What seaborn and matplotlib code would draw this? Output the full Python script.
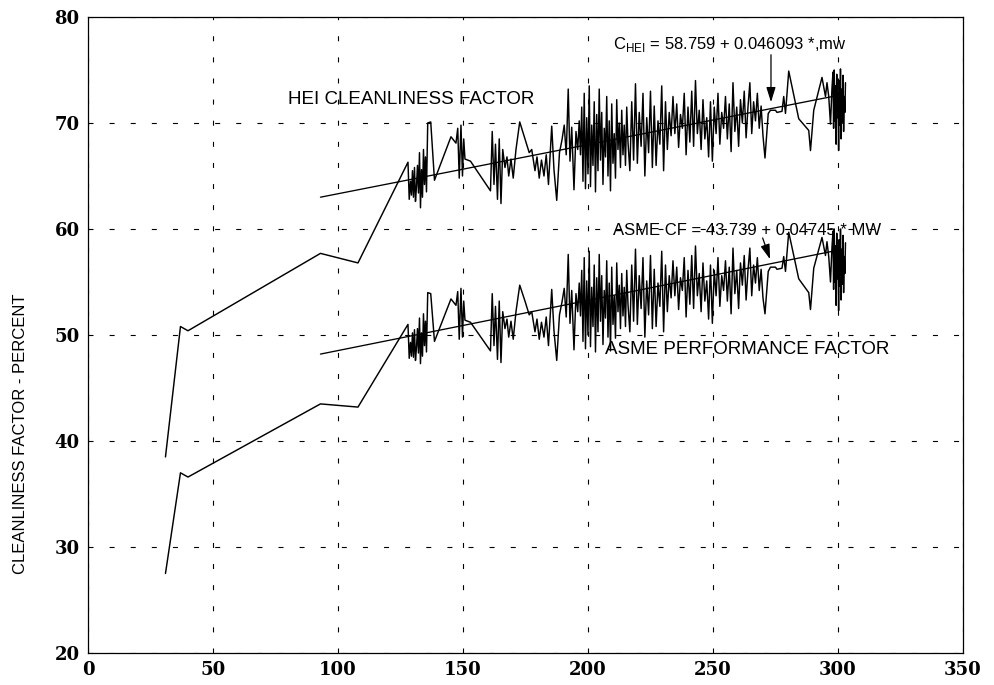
import pandas as pd
import matplotlib
matplotlib.use('Agg')
import matplotlib.pyplot as plt
import seaborn as sns

# Carga (MW) e fatores de limpeza
mw = [31, 37, 40, 93, 108, 128,
      128.5, 129.0, 129.4, 129.8, 130.2, 130.6, 131.0, 131.4, 131.8, 132.2,
      132.6, 133.0, 133.4, 133.8, 134.2, 134.6, 135.0, 135.4, 135.9, 137.1,
      138.6, 145.2, 147.2, 147.9, 148.5, 149.2, 149.8, 150.3, 150.8, 153.0,
      161.0, 161.7, 162.4, 163.0, 163.8, 164.5, 165.2, 165.9, 166.8, 167.6,
      168.3, 169.2, 170.1, 171.2, 172.7, 174.8, 176.5, 177.5, 178.8, 179.6,
      180.5, 181.4, 182.4, 183.3, 184.2, 185.5, 186.4, 187.5, 188.6, 189.6,
      190.5, 191.3, 192.1, 192.8, 193.5, 194.4, 195.2, 195.9, 196.5,
      197.0, 197.5, 198.0, 198.5, 199.0, 199.5, 200.0, 200.5, 201.0, 201.5,
      202.0, 202.5, 203.0, 203.5, 204.0, 204.5, 205.0, 205.5, 206.0, 206.5,
      207.0, 207.5, 208.0, 208.5, 209.0, 209.5, 210.0, 210.5, 211.0, 211.5,
      212.0, 212.5, 213.0, 213.5, 214.0, 214.5, 215.0, 215.5, 216.0,
      216.75, 217.5, 218.25, 219.0, 219.75, 220.5, 221.25, 222.0, 222.75, 223.5,
      224.25, 225.0, 225.75, 226.5, 227.25, 228.0, 228.75, 229.5, 230.25, 231.0,
      231.75, 232.5, 233.25, 234.0, 234.75, 235.5, 236.25, 237.0, 237.75, 238.5,
      239.25, 240.0, 240.75, 241.5, 242.25, 243.0, 243.75, 244.5, 245.25, 246.0,
      246.75, 247.5, 248.25, 249.0, 249.75, 250.5, 251.25, 252.0, 252.75, 253.5,
      254.25, 255.0, 255.75, 256.5, 257.25, 258.0, 258.75, 259.5, 260.25, 261.0,
      261.75, 262.5, 263.25, 264.0, 264.75, 265.5, 266.25, 267.0, 267.75, 268.5,
      269.25, 270.0,
      270.8, 272.1, 273.0, 275.0, 275.6, 277.6, 278.3, 279.0, 280.3, 284.3,
      288.3, 289.0, 290.3, 293.6, 295.0, 295.6, 296.3, 297.0, 297.6,
      298.0, 298.25, 298.5, 298.75, 299.0, 299.25, 299.5, 299.75, 300.0, 300.25,
      300.5, 300.75, 301.0, 301.25, 301.5, 301.75, 302.0, 302.25, 302.5, 302.75,
      303.0]

hei_cf = [38.5, 50.8, 50.4, 57.7, 56.8, 66.3,
          62.8, 64.5, 63.2, 65.5, 63.0, 65.8, 62.6, 64.0, 66.0, 63.4,
          67.2, 62.0, 65.6, 63.0, 67.5, 64.2, 66.8, 63.5, 70.0, 70.1,
          64.6, 68.7, 68.1, 69.5, 64.8, 69.8, 65.0, 68.5, 66.6, 66.4,
          63.6, 69.2, 64.2, 68.0, 62.8, 68.5, 62.4, 67.5, 65.8, 66.8,
          65.0, 66.6, 64.8, 67.5, 70.1, 68.5, 67.2, 67.5, 65.5, 66.8,
          64.8, 66.5, 65.0, 67.0, 64.2, 69.7, 65.6, 62.7, 67.2, 68.4,
          69.8, 67.0, 73.2, 66.4, 69.6, 63.7, 69.2, 67.5, 70.2,
          67.0, 71.5, 64.5, 72.8, 63.8, 70.5, 65.2, 73.5, 64.0, 69.8,
          66.0, 72.0, 63.5, 70.8, 65.5, 73.2, 66.5, 71.0, 64.2, 69.5,
          66.8, 72.5, 65.0, 70.2, 63.6, 71.8, 66.2, 69.0, 64.8, 72.2,
          67.5, 70.0, 65.8, 71.2, 67.0, 69.8, 66.0, 71.5, 68.2,
          65.5, 72.0, 66.5, 73.7, 66.2, 71.0, 67.8, 72.8, 65.0, 70.5,
          67.2, 73.0, 65.8, 71.6, 66.0, 70.2, 68.0, 73.5, 65.5, 72.0,
          67.5, 71.0, 68.8, 72.5, 69.0, 71.8, 67.7, 70.8, 69.5, 72.8,
          67.0, 71.5, 68.2, 73.0, 67.8, 74.0, 69.0, 71.2, 67.5, 72.2,
          68.5, 70.5, 66.8, 72.0, 66.4, 71.5, 69.0, 72.8, 68.0, 71.0,
          69.5, 72.5, 68.5, 71.8, 67.3, 73.8, 69.2, 71.5, 67.8, 72.2,
          70.0, 73.0, 68.6, 71.5, 73.8, 69.0, 72.0, 70.2, 72.8, 69.5,
          71.6, 68.8,
          66.7, 70.9, 71.2, 71.2, 71.0, 71.1, 72.5, 70.9, 74.9, 70.4,
          69.3, 67.4, 71.2, 74.3, 72.5, 73.8, 72.5, 69.9, 73.3,
          74.8, 69.5, 75.0, 70.2, 73.5, 68.0, 74.6, 70.5, 72.8, 67.4,
          74.0, 69.8, 75.1, 68.5, 73.2, 70.0, 74.5, 69.2, 72.5, 71.0,
          73.8]

asme_cf = [27.5, 37.0, 36.6, 43.5, 43.2, 51.0,
           47.8, 49.3, 48.0, 50.2, 47.9, 50.5, 47.6, 48.8, 50.6, 48.3,
           51.6, 47.3, 50.2, 48.0, 52.0, 49.0, 51.3, 48.4, 54.0, 53.9,
           49.4, 53.4, 52.8, 54.1, 49.6, 54.4, 49.8, 53.2, 51.4, 51.2,
           48.5, 53.9, 49.0, 52.7, 47.7, 53.2, 47.4, 52.2, 50.6, 51.5,
           49.8, 51.3, 49.6, 52.2, 54.7, 53.2, 51.9, 52.2, 50.3, 51.5,
           49.6, 51.2, 49.8, 51.7, 49.0, 54.3, 50.4, 47.6, 51.9, 53.1,
           54.4, 51.7, 57.6, 51.1, 54.2, 48.6, 53.9, 52.2, 54.9,
           51.8, 56.1, 49.4, 57.3, 48.7, 55.1, 50.0, 57.9, 48.9, 54.5,
           50.8, 56.6, 48.4, 55.4, 50.3, 57.6, 51.3, 55.6, 49.1, 54.2,
           51.6, 57.0, 49.8, 54.9, 48.5, 56.4, 51.0, 53.7, 49.7, 56.8,
           52.2, 54.7, 50.6, 55.8, 51.8, 54.5, 50.8, 56.1, 52.9,
           50.3, 56.6, 51.3, 58.1, 51.0, 55.6, 52.5, 57.3, 49.8, 55.1,
           51.9, 57.5, 50.6, 56.2, 50.8, 54.9, 52.7, 57.9, 50.3, 56.6,
           52.2, 55.6, 53.5, 57.0, 53.7, 56.4, 52.4, 55.4, 54.2, 57.3,
           51.7, 56.1, 52.9, 57.5, 52.5, 58.4, 53.7, 55.8, 52.2, 56.8,
           53.2, 55.1, 51.5, 56.6, 51.1, 56.1, 53.7, 57.3, 52.7, 55.6,
           54.2, 57.0, 53.2, 56.4, 52.0, 58.2, 53.9, 56.1, 52.5, 56.8,
           54.7, 57.5, 53.3, 56.1, 58.2, 53.7, 56.6, 54.9, 57.3, 54.2,
           56.2, 53.5,
           52.0, 56.0, 56.4, 56.4, 56.2, 56.3, 57.4, 56.0, 59.7, 55.3,
           54.0, 52.4, 56.3, 59.2, 57.5, 58.8, 57.4, 55.0, 58.3,
           59.8, 54.3, 60.0, 55.0, 58.4, 52.8, 59.6, 55.3, 57.7, 52.3,
           59.0, 54.6, 60.0, 53.3, 58.1, 54.8, 59.4, 54.0, 57.4, 55.8,
           58.7]

# Retas de regressão (extremos)
fit_mw = [93, 300]
hei_fit = [63.0, 72.6]
asme_fit = [48.2, 58.0]

x_ticks = [0, 50, 100, 150, 200, 250, 300, 350]
y_ticks = [20, 30, 40, 50, 60, 70, 80]

df = pd.DataFrame({'mw': mw, 'hei': hei_cf, 'asme': asme_cf})
df_fit = pd.DataFrame({'mw': fit_mw, 'hei': hei_fit, 'asme': asme_fit})

sns.set_style('white')
plt.rcParams['font.family'] = ['Liberation Sans', 'DejaVu Sans']
plt.rcParams['mathtext.fontset'] = 'custom'
plt.rcParams['mathtext.rm'] = 'Liberation Sans'
plt.rcParams['text.color'] = 'black'
plt.rcParams['axes.labelcolor'] = 'black'
plt.rcParams['xtick.color'] = 'black'
plt.rcParams['ytick.color'] = 'black'

fig = plt.figure(figsize=(9.94, 6.85), dpi=100)
ax = fig.add_axes([0.0885, 0.0467, 0.8803, 0.9285])

for col in ['hei', 'asme']:
    sns.lineplot(data=df, x='mw', y=col, sort=False, estimator=None,
                 color='black', linewidth=1.05, ax=ax)
    sns.lineplot(data=df_fit, x='mw', y=col, sort=False, estimator=None,
                 color='black', linewidth=0.95, ax=ax)

ax.set_xlim(0, 350)
ax.set_ylim(20, 80)
ax.set_xticks(x_ticks)
ax.set_yticks(y_ticks)
ax.grid(True, color='black', linewidth=0.8, linestyle=(0, (4.5, 14.5)))
ax.tick_params(direction='in', length=6, width=0.8, color='black', pad=6)
for lab in ax.get_xticklabels() + ax.get_yticklabels():
    lab.set_fontfamily('DejaVu Serif')
    lab.set_fontweight('bold')
    lab.set_fontsize(13)
for s in ax.spines.values():
    s.set_color('black')
    s.set_linewidth(0.9)

ax.set_xlabel('')
ax.set_ylabel('CLEANLINESS FACTOR - PERCENT', fontsize=12)
ax.yaxis.set_label_coords(-0.068, 0.344)

ax.text(80, 72.2, 'HEI CLEANLINESS FACTOR', fontsize=13.5, va='center', ha='left')
ax.text(207, 48.6, 'ASME PERFORMANCE FACTOR', fontsize=13.5, va='center', ha='left')
ax.text(210, 77.4, r'C$_{\mathrm{HEI}}$ = 58.759 + 0.046093 *,mw', fontsize=12,
        va='center', ha='left')
ax.text(210, 59.9, 'ASME CF = 43.739 + 0.04745 * MW', fontsize=12,
        va='center', ha='left')

arrow = dict(arrowstyle='-|>,head_length=0.9,head_width=0.28', color='black', lw=0.9)
ax.annotate('', xy=(273.2, 71.7), xytext=(273.2, 76.7), arrowprops=arrow)
ax.annotate('', xy=(273.2, 56.9), xytext=(269.5, 59.4), arrowprops=arrow)

fig.savefig('out.png', dpi=100)
